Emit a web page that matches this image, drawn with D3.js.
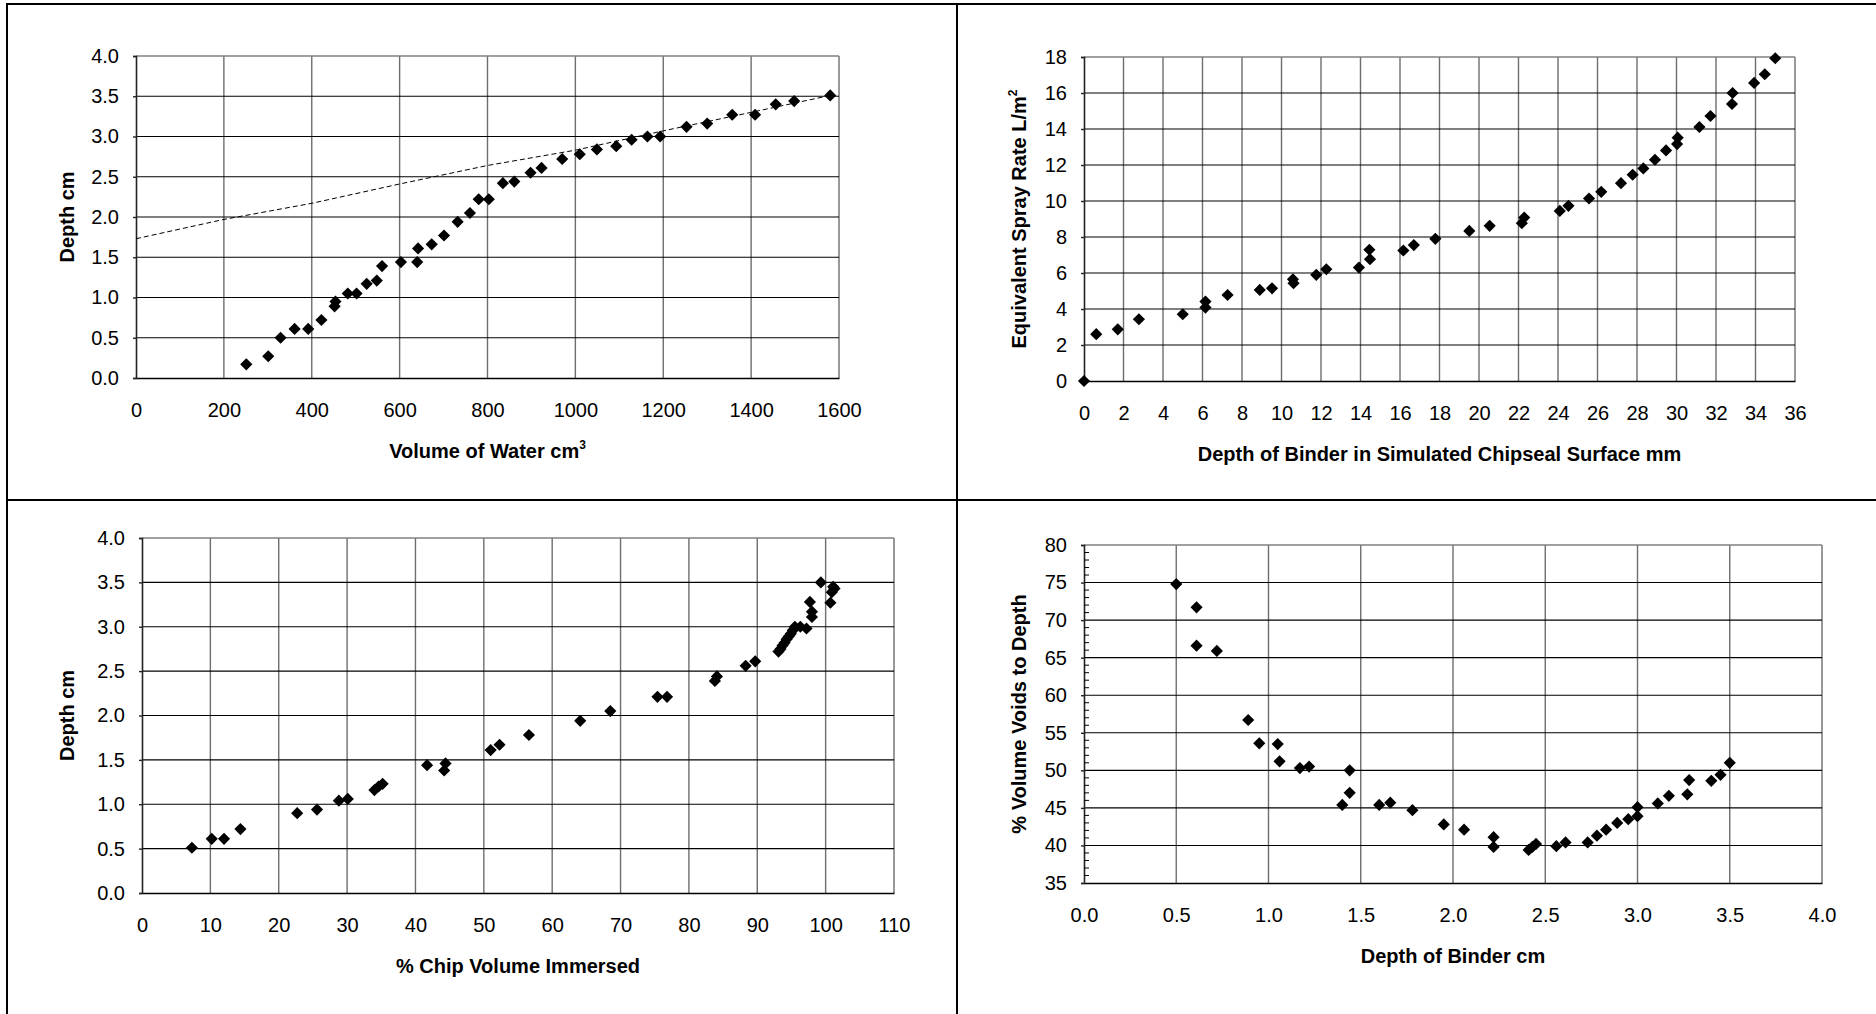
<!DOCTYPE html>
<html>
<head>
<meta charset="utf-8">
<script src="https://cdn.jsdelivr.net/npm/d3@7"></script>
<style>
  html, body { margin: 0; padding: 0; background: #fff; }
  svg { display: block; }
  text { font-family: "Liberation Sans", Arial, sans-serif; fill: #000; }
</style>
</head>
<body>
<svg id="chart" width="1876" height="1014"></svg>
<script>
// ---------------- DATA ----------------
// Panel 1: Depth vs Volume of Water
const p1Volume = [251, 301, 329, 361, 392, 422, 452, 454, 482, 502, 525, 548, 560, 603, 640, 642, 673, 701, 732, 760, 780, 803, 835, 861, 898, 923, 970, 1010, 1049, 1093, 1128, 1164, 1193, 1253, 1300, 1357, 1409, 1456, 1498, 1580];
const p1Depth = [0.17, 0.27, 0.50, 0.61, 0.61, 0.72, 0.89, 0.95, 1.05, 1.05, 1.17, 1.21, 1.39, 1.44, 1.44, 1.61, 1.66, 1.77, 1.94, 2.05, 2.22, 2.22, 2.42, 2.44, 2.55, 2.61, 2.72, 2.78, 2.84, 2.88, 2.96, 3.00, 3.00, 3.12, 3.16, 3.27, 3.27, 3.40, 3.44, 3.51];
const p1LineVolume = [0, 200, 400, 600, 800, 1000, 1200, 1400, 1580];
const p1LineDepth = [1.73, 1.97, 2.17, 2.41, 2.64, 2.83, 3.07, 3.30, 3.51];
const p1XTicks = [0, 200, 400, 600, 800, 1000, 1200, 1400, 1600];
const p1YTicks = [0, 0.5, 1.0, 1.5, 2.0, 2.5, 3.0, 3.5, 4.0];

// Panel 2: Equivalent Spray Rate vs Depth of Binder
const p2Depth = [0, 0.62, 1.71, 2.78, 5.0, 6.15, 6.15, 7.27, 8.9, 9.52, 10.58, 10.61, 11.76, 12.27, 13.92, 14.45, 14.48, 16.17, 16.70, 17.79, 19.51, 20.54, 22.17, 22.29, 24.09, 24.53, 25.57, 26.19, 27.19, 27.78, 28.32, 28.91, 29.47, 30.03, 30.06, 31.16, 31.72, 32.81, 32.84, 33.93, 34.47, 35.0];
const p2Rate = [0, 2.60, 2.87, 3.43, 3.71, 4.41, 4.08, 4.78, 5.06, 5.15, 5.65, 5.43, 5.90, 6.21, 6.30, 7.29, 6.77, 7.25, 7.55, 7.90, 8.34, 8.62, 8.77, 9.08, 9.45, 9.73, 10.14, 10.51, 10.99, 11.46, 11.81, 12.29, 12.81, 13.16, 13.52, 14.11, 14.72, 15.39, 16.00, 16.56, 17.04, 17.93];
const p2XTicks = [0, 2, 4, 6, 8, 10, 12, 14, 16, 18, 20, 22, 24, 26, 28, 30, 32, 34, 36];
const p2YTicks = [0, 2, 4, 6, 8, 10, 12, 14, 16, 18];

// Panel 3: Depth vs % Chip Volume Immersed
const p3Immersed = [7.3, 10.2, 12.0, 14.4, 22.7, 25.6, 28.8, 30.1, 34.0, 34.6, 35.2, 41.7, 44.2, 44.4, 51.0, 52.3, 56.6, 64.1, 68.5, 75.4, 76.8, 83.8, 84.1, 88.3, 89.7, 93.1, 93.4, 93.7, 94.0, 94.3, 94.6, 94.9, 95.2, 95.5, 96.3, 97.2, 97.7, 98.0, 98.0, 99.3, 100.7, 100.9, 101.1, 101.3];
const p3Depth = [0.51, 0.61, 0.61, 0.72, 0.90, 0.94, 1.04, 1.06, 1.16, 1.20, 1.23, 1.44, 1.38, 1.46, 1.61, 1.67, 1.78, 1.94, 2.05, 2.21, 2.21, 2.39, 2.44, 2.56, 2.61, 2.72, 2.75, 2.79, 2.82, 2.86, 2.89, 2.92, 2.96, 3.00, 3.00, 2.98, 3.28, 3.17, 3.11, 3.50, 3.27, 3.39, 3.45, 3.43];
const p3XTicks = [0, 10, 20, 30, 40, 50, 60, 70, 80, 90, 100, 110];
const p3YTicks = [0, 0.5, 1.0, 1.5, 2.0, 2.5, 3.0, 3.5, 4.0];

// Panel 4: % Volume Voids to Depth vs Depth of Binder
const p4Depth = [0.50, 0.61, 0.61, 0.72, 0.89, 0.95, 1.05, 1.06, 1.17, 1.22, 1.40, 1.44, 1.44, 1.60, 1.66, 1.78, 1.95, 2.06, 2.22, 2.22, 2.41, 2.43, 2.45, 2.56, 2.61, 2.73, 2.78, 2.83, 2.89, 2.95, 3.00, 3.00, 3.11, 3.17, 3.27, 3.28, 3.40, 3.45, 3.50];
const p4Voids = [74.8, 71.7, 66.6, 65.9, 56.7, 53.6, 53.5, 51.2, 50.3, 50.5, 45.4, 50.0, 47.0, 45.4, 45.7, 44.7, 42.8, 42.1, 41.1, 39.8, 39.4, 39.8, 40.2, 39.9, 40.4, 40.4, 41.3, 42.1, 43.0, 43.5, 43.9, 45.1, 45.6, 46.6, 46.8, 48.7, 48.6, 49.4, 51.0];
const p4XTicks = [0, 0.5, 1.0, 1.5, 2.0, 2.5, 3.0, 3.5, 4.0];
const p4YTicks = [35, 40, 45, 50, 55, 60, 65, 70, 75, 80];
const p4YMinor = d3.range(35, 81, 1).filter(v => v % 5 !== 0);

// ---------------- DRAWING ----------------
const svg = d3.select("#chart");
svg.append("rect").attr("width", 1876).attr("height", 1014).attr("fill", "#fff");

// frame lines
const frame = svg.append("g").attr("fill", "#000");
frame.append("rect").attr("x", 6).attr("y", 3).attr("width", 1870).attr("height", 2);
frame.append("rect").attr("x", 6).attr("y", 3).attr("width", 2).attr("height", 1011);
frame.append("rect").attr("x", 956).attr("y", 3).attr("width", 2).attr("height", 1011);
frame.append("rect").attr("x", 6).attr("y", 499).attr("width", 1870).attr("height", 2);

const diamond = d3.symbol(d3.symbolSquare, 74);

function panel(o) {
  const x = d3.scaleLinear().domain(o.xDomain).range([o.left, o.right]);
  const y = d3.scaleLinear().domain(o.yDomain).range([o.bottom, o.top]);
  const g = svg.append("g");

  // vertical grid lines
  g.append("g").selectAll("line").data(o.xTicks.slice(1)).join("line")
    .attr("x1", d => x(d)).attr("x2", d => x(d))
    .attr("y1", o.top).attr("y2", o.bottom)
    .attr("stroke", "#6e6e6e").attr("stroke-width", 1.4);

  // horizontal grid lines
  g.append("g").selectAll("line").data(o.yTicks.slice(1)).join("line")
    .attr("x1", o.left).attr("x2", o.right)
    .attr("y1", d => y(d)).attr("y2", d => y(d))
    .attr("stroke", (d, i, arr) => i === arr.length - 1 ? "#808080" : "#000")
    .attr("stroke-width", (d, i, arr) => i === arr.length - 1 ? 1.4 : 1.1);

  // x axis
  const xa = d3.axisBottom(x).tickValues(o.xTicks).tickSize(0).tickPadding(25)
    .tickFormat(o.xFmt);
  const gx = g.append("g").attr("transform", `translate(0,${o.bottom})`).call(xa);
  gx.select(".domain").attr("stroke", "#000").attr("stroke-width", 1.6);
  gx.selectAll("text").attr("font-size", 20).attr("font-family", '"Liberation Sans", Arial, sans-serif');

  // y axis
  const ya = d3.axisLeft(y).tickValues(o.yTicks).tickSize(3).tickPadding(14)
    .tickFormat(o.yFmt);
  const gy = g.append("g").attr("transform", `translate(${o.left},0)`).call(ya);
  gy.select(".domain").attr("stroke", "#222").attr("stroke-width", 1.6);
  gy.selectAll(".tick line").attr("stroke", "#222").attr("stroke-width", 1.4);
  gy.selectAll("text").attr("font-size", 20).attr("font-family", '"Liberation Sans", Arial, sans-serif');

  if (o.yMinor) {
    g.append("g").selectAll("line").data(o.yMinor).join("line")
      .attr("x1", o.left).attr("x2", o.left + 5)
      .attr("y1", d => y(d)).attr("y2", d => y(d))
      .attr("stroke", "#000").attr("stroke-width", 1);
  }

  // optional dashed line
  if (o.line) {
    const ln = d3.line().x(d => x(d[0])).y(d => y(d[1]));
    g.append("path").datum(o.line).attr("d", ln)
      .attr("fill", "none").attr("stroke", "#000").attr("stroke-width", 1)
      .attr("stroke-dasharray", "5,3");
  }

  // points
  g.append("g").selectAll("path").data(o.points).join("path")
    .attr("d", diamond)
    .attr("transform", d => `translate(${x(d[0])},${y(d[1])}) rotate(45)`)
    .attr("fill", "#000");

  // x title
  const xt = g.append("text")
    .attr("x", (o.left + o.right) / 2).attr("y", o.bottom + 80)
    .attr("text-anchor", "middle").attr("font-size", 20).attr("font-weight", "bold");
  xt.append("tspan").text(o.xTitle);
  if (o.xSup) xt.append("tspan").attr("dy", -9).attr("font-size", 12).text(o.xSup);

  // y title
  const yt = g.append("text")
    .attr("transform", `translate(${o.yTitleX},${(o.top + o.bottom) / 2}) rotate(-90)`)
    .attr("text-anchor", "middle").attr("dy", "0.35em")
    .attr("font-size", 20).attr("font-weight", "bold");
  yt.append("tspan").text(o.yTitle);
  if (o.ySup) yt.append("tspan").attr("dy", -9).attr("font-size", 12).text(o.ySup);
}

const f1 = d3.format(".1f");
const f0 = d3.format("d");

panel({
  left: 136, right: 839, top: 56, bottom: 378,
  xDomain: [0, 1600], yDomain: [0, 4],
  xTicks: p1XTicks, yTicks: p1YTicks, xFmt: f0, yFmt: f1,
  points: d3.zip(p1Volume, p1Depth),
  line: d3.zip(p1LineVolume, p1LineDepth),
  xTitle: "Volume of Water cm", xSup: "3",
  yTitle: "Depth cm", yTitleX: 67
});

panel({
  left: 1084, right: 1795, top: 57, bottom: 381,
  xDomain: [0, 36], yDomain: [0, 18],
  xTicks: p2XTicks, yTicks: p2YTicks, xFmt: f0, yFmt: f0,
  points: d3.zip(p2Depth, p2Rate),
  xTitle: "Depth of Binder in Simulated Chipseal Surface mm",
  yTitle: "Equivalent Spray Rate L/m", ySup: "2", yTitleX: 1019
});

panel({
  left: 142, right: 894, top: 538, bottom: 893,
  xDomain: [0, 110], yDomain: [0, 4],
  xTicks: p3XTicks, yTicks: p3YTicks, xFmt: f0, yFmt: f1,
  points: d3.zip(p3Immersed, p3Depth),
  xTitle: "% Chip Volume Immersed",
  yTitle: "Depth cm", yTitleX: 67
});

panel({
  left: 1084, right: 1822, top: 545, bottom: 883,
  xDomain: [0, 4], yDomain: [35, 80],
  xTicks: p4XTicks, yTicks: p4YTicks, xFmt: f1, yFmt: f0,
  yMinor: p4YMinor,
  points: d3.zip(p4Depth, p4Voids),
  xTitle: "Depth of Binder cm",
  yTitle: "% Volume Voids to Depth", yTitleX: 1019
});
</script>
</body>
</html>
